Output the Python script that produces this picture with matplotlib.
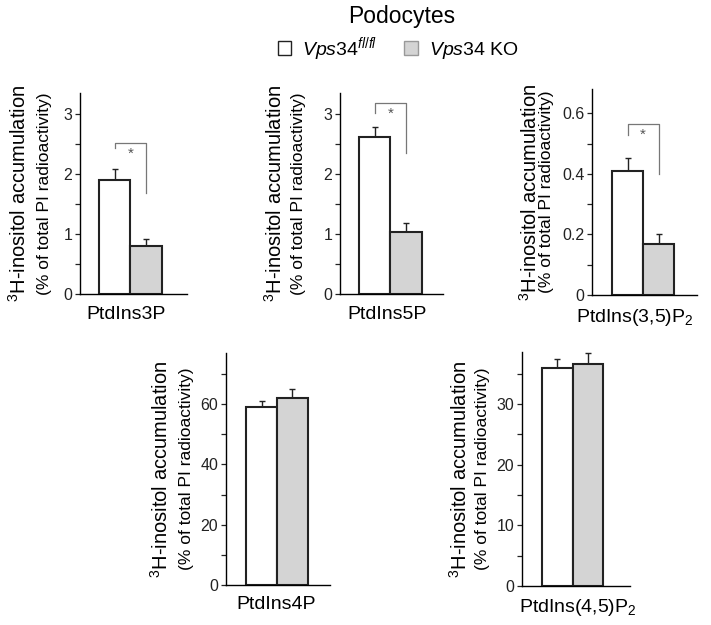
import matplotlib
matplotlib.use("Agg")
import matplotlib.pyplot as plt
from matplotlib.patches import Patch
from matplotlib.ticker import MultipleLocator, FixedLocator, FixedFormatter

plt.rcParams['font.family'] = ['Liberation Sans', 'DejaVu Sans']
plt.rcParams['mathtext.fontset'] = 'custom'
plt.rcParams['mathtext.rm'] = 'Liberation Sans'
plt.rcParams['mathtext.it'] = 'Liberation Sans:italic'
plt.rcParams['mathtext.bf'] = 'Liberation Sans:bold'

# ---- data ----
panels = ["PtdIns3P", "PtdIns5P", "PtdIns(3,5)P$_2$", "PtdIns4P", "PtdIns(4,5)P$_2$"]
flfl_values = [1.90, 2.62, 0.41, 59.0, 36.0]
flfl_errors = [0.18, 0.16, 0.042, 2.0, 1.5]
ko_values = [0.80, 1.03, 0.168, 62.0, 36.6]
ko_errors = [0.12, 0.16, 0.035, 3.0, 1.9]
series_labels = [r"$\mathit{Vps34}^{\mathit{fl/fl}}$", r"$\mathit{Vps34}$ KO"]
major_ticks = [[0, 1, 2, 3], [0, 1, 2, 3], [0, 0.2, 0.4, 0.6], [0, 20, 40, 60], [0, 10, 20, 30]]
major_tick_labels = [["0", "1", "2", "3"], ["0", "1", "2", "3"], ["0", "0.2", "0.4", "0.6"],
                     ["0", "20", "40", "60"], ["0", "10", "20", "30"]]
minor_step = [0.5, 0.5, 0.1, 10, 5]
ymax = [3.35, 3.35, 0.68, 77, 38.6]
# significance brackets: (top, left leg bottom, right leg bottom, star y) or None
brackets = [(2.52, 2.43, 1.68, 2.33), (3.18, 3.02, 2.35, 3.0), (0.564, 0.528, 0.40, 0.53), None, None]

# ---- layout (pixel measurements) ----
W, H = 711, 625
# left, right, top, bottom in px
boxes = [(80, 187, 93, 294), (340, 443, 93, 294), (592, 697, 89, 295),
         (226, 330, 353, 585), (522, 630, 352, 586)]
xlims = [(-1.09, 2.28), (-1.11, 2.18), (-1.16, 2.25), (-1.16, 2.22), (-1.16, 2.38)]
line1_off = [61, 65, 62, 65, 62]   # px left of spine
line2_off = [36, 42, 45, 40, 40]
xlab_frac = [0.426, 0.46, 0.41, 0.48, 0.52]
xlab_gap = [12, 12, 12, 11, 11]

fig = plt.figure(figsize=(W / 100, H / 100), dpi=100)
GREY = "#d4d4d4"
EDGE = "#222222"

for i in range(5):
    l, r, t, b = boxes[i]
    ax = fig.add_axes([l / W, (H - b) / H, (r - l) / W, (b - t) / H])
    x = [0, 1]
    vals = [flfl_values[i], ko_values[i]]
    errs = [flfl_errors[i], ko_errors[i]]
    ax.bar(x, vals, width=1.0, color=["white", GREY], edgecolor=EDGE, linewidth=1.5, zorder=2)
    ax.errorbar(x, vals, yerr=[[0, 0], errs], fmt="none", ecolor=EDGE, elinewidth=1.0,
                capsize=2, capthick=1.0, zorder=1)
    ax.set_xlim(*xlims[i])
    ax.set_ylim(0, ymax[i])
    for s in ["top", "right"]:
        ax.spines[s].set_visible(False)
    ax.spines["left"].set_linewidth(1.0)
    ax.spines["bottom"].set_linewidth(1.0)
    ax.set_xticks([])
    ax.yaxis.set_major_locator(FixedLocator(major_ticks[i]))
    ax.yaxis.set_major_formatter(FixedFormatter(major_tick_labels[i]))
    ax.yaxis.set_minor_locator(MultipleLocator(minor_step[i]))
    ax.tick_params(axis="y", which="both", direction="out", length=3.5, width=0.9,
                   labelsize=11.5, pad=2, colors="#222222")
    # y labels
    ax.annotate(r"$^{3}$H-inositol accumulation", xy=(0, 0.5), xycoords="axes fraction",
                xytext=(-line1_off[i] * 0.72, 0), textcoords="offset points",
                rotation=90, ha="center", va="center", fontsize=14.5)
    ax.annotate("(% of total PI radioactivity)", xy=(0, 0.5), xycoords="axes fraction",
                xytext=(-line2_off[i] * 0.72, 0), textcoords="offset points",
                rotation=90, ha="center", va="center", fontsize=12.5)
    # x label
    ax.annotate(panels[i], xy=(xlab_frac[i], 0), xycoords="axes fraction",
                xytext=(0, -xlab_gap[i] * 0.72), textcoords="offset points",
                ha="center", va="top", fontsize=14)
    # brackets
    if brackets[i] is not None:
        top, lb, rb, sy = brackets[i]
        ax.plot([0, 0, 1, 1], [lb, top, top, rb], color="#777777", lw=0.9, zorder=3)
        ax.text(0.5, sy, "*", ha="center", va="center", fontsize=11, color="#555555")

fig.text(402 / W, 1 - 17 / H, "Podocytes", ha="center", va="center", fontsize=16.5)
handles = [Patch(facecolor="white", edgecolor=EDGE, linewidth=1.0),
           Patch(facecolor=GREY, edgecolor="#999999", linewidth=1.0)]
fig.legend(handles, series_labels, loc="center", bbox_to_anchor=(398 / W, 1 - 49 / H),
           ncol=2, frameon=False, fontsize=14, handlelength=0.7, handleheight=0.7,
           handletextpad=0.55, columnspacing=1.4, borderaxespad=0)

fig.savefig("out.png", dpi=100)
